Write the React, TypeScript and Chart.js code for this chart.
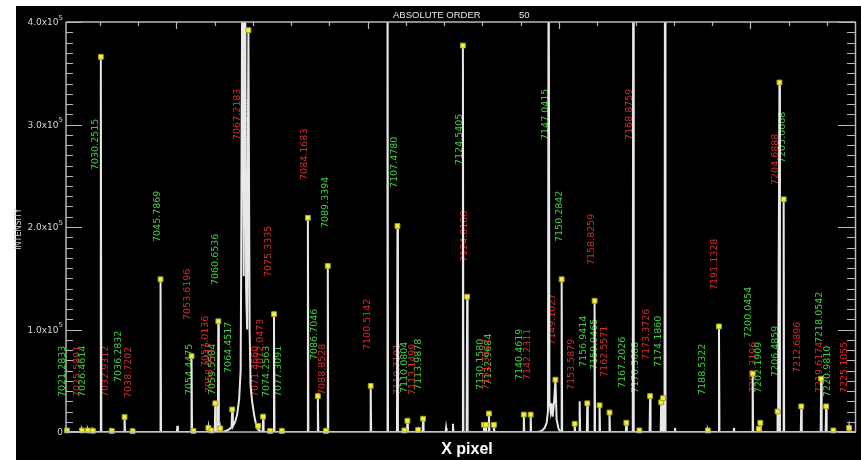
import React, { useEffect, useRef } from "react";
import { Chart, registerables } from "chart.js";

Chart.register(...registerables);

// ---- axis ranges (x in CCD pixels, y in counts) ----
const X_MIN = 12;
const X_MAX = 2076;
const Y_MAX = 400000;

// ---- narrow emission lines: centre pixel and peak counts ----
const linePixel = [14.6, 53.6, 69.2, 82.2, 103, 131.6, 165, 186, 259, 303, 340, 345, 384, 392, 402, 410, 415, 527, 545, 555.4, 576, 644, 670, 691, 696, 808, 852, 878, 896, 904, 932, 945, 1005, 1023, 1049, 1060, 1104, 1109, 1117, 1130, 1208, 1226, 1307, 1341, 1354, 1374, 1393, 1406, 1432, 1476, 1494, 1510, 1538, 1567, 1572, 1577, 1603, 1689, 1718, 1757, 1806, 1822, 1826, 1871, 1876, 1887, 1933, 1985, 1998, 2017, 2058];
const lineCounts = [1500, 1500, 1500, 1200, 366000, 1000, 14600, 800, 149000, 6000, 74000, 1000, 4000, 1500, 28000, 108000, 3500, 15000, 1000, 115000, 1000, 209000, 35000, 1000, 162000, 45000, 520000, 201000, 1500, 11000, 2000, 13000, 4000, 8000, 377000, 132000, 7000, 7000, 18000, 7000, 17000, 17000, 149000, 8000, 30000, 28000, 128000, 26000, 19000, 9000, 520000, 1500, 35000, 29000, 33000, 520000, 4000, 1500, 103000, 4000, 57000, 3000, 9000, 20000, 341000, 227000, 25000, 52000, 25000, 1500, 4000];

const blendAPixel = [422.8, 435.8, 444.5, 446.2, 448, 454, 459.2, 464.4, 468.3, 469.6, 473, 476.4, 479.5, 482.6, 485.2, 488.6, 491.7, 494.3, 498.2, 503.4, 508, 511.5, 513.8, 516, 522];
const blendACounts = [0, 2000, 4500, 22000, 5500, 10000, 17000, 32000, 60000, 152000, 520000, 152000, 520000, 140000, 100000, 392000, 100000, 45000, 30000, 17000, 8000, 4000, 6000, 2000, 0];
const blendBPixel = [1244.4, 1254.8, 1262.6, 1267.8, 1271.2, 1273, 1275.1, 1278.2, 1280.8, 1283.4, 1287.3, 1290.7, 1293.8, 1299, 1304.2];
const blendBCounts = [0, 1000, 4000, 9000, 20000, 520000, 30000, 20000, 28000, 15000, 30000, 51000, 12000, 3000, 0];

// ---- identified line markers (yellow squares) ----
const markerPixel = [14.6, 53.6, 69.2, 82.2, 103, 131.6, 165, 186, 259, 340, 345, 384, 392, 402, 410, 415, 446.2, 488.6, 513.8, 527, 545, 555.4, 576, 644, 670, 691, 696, 808, 878, 896, 904, 932, 945, 1049, 1060, 1104, 1109, 1117, 1130, 1208, 1226, 1290.7, 1307, 1341, 1374, 1393, 1406, 1432, 1476, 1510, 1538, 1567, 1572, 1689, 1718, 1806, 1822, 1826, 1871, 1876, 1887, 1933, 1985, 1998, 2017, 2058];
const markerCounts = [1500, 1500, 1500, 1200, 366000, 1000, 14600, 800, 149000, 74000, 1000, 4000, 1500, 28000, 108000, 3500, 22000, 392000, 6000, 15000, 1000, 115000, 1000, 209000, 35000, 1000, 162000, 45000, 201000, 1500, 11000, 2000, 13000, 377000, 132000, 7000, 7000, 18000, 7000, 17000, 17000, 51000, 149000, 8000, 28000, 128000, 26000, 19000, 9000, 1500, 35000, 29000, 33000, 1500, 103000, 57000, 3000, 9000, 20000, 341000, 227000, 25000, 52000, 25000, 1500, 4000];

// ---- wavelength labels (green = matched, red = other) ----
const greenText = ["7021.2833", "7026.4614", "7030.2515", "7036.2832", "7045.7869", "7054.4475", "7059.5584", "7060.6536", "7064.4517", "7068.4106", "7074.2563", "7077.3091", "7086.7046", "7089.3394", "7107.4780", "7110.0804", "7113.9878", "7124.5405", "7130.1580", "7132.9684", "7140.4619", "7147.0415", "7150.2842", "7156.9414", "7159.9465", "7167.2026", "7170.3688", "7174.1860", "7188.5322", "7200.0454", "7202.1909", "7206.4859", "7205.0668", "7218.0542", "7220.9810"];
const greenPixel = [4, 56, 90, 150, 251, 334, 394, 402, 436, 480, 535, 566, 662, 691, 870, 896, 932, 1039, 1096, 1117, 1198, 1265, 1302, 1364, 1393, 1465, 1499, 1559, 1676, 1796, 1822, 1866, 1884, 1980, 2001];
const greenBase = [34100, 34100, 255600, 48800, 185400, 36100, 36100, 143400, 57600, 275100, 34100, 34100, 70200, 199000, 238000, 38000, 41000, 260500, 41000, 45900, 50700, 284900, 185400, 63400, 60500, 42900, 38000, 63400, 36100, 91700, 38000, 53700, 262400, 86800, 34100];

const redText = ["7025.5891", "7032.9312", "7038.7202", "7053.6196", "7057.0136", "7058.4417", "7067.2183", "7071.4660", "7072.0473", "7075.3335", "7084.1683", "7088.8528", "7100.5142", "7110.7101", "7113.1499", "7124.8188", "7131.3822", "7142.2311", "7149.1027", "7153.5879", "7158.8259", "7162.5571", "7168.8759", "7173.3726", "7191.1328", "7202.3196", "7204.6888", "7212.6896", "7219.6174", "7225.1055"];
const redPixel = [41, 116, 176, 329, 376, 386, 459, 506, 519, 542, 636, 683, 800, 879, 917, 1052, 1112, 1218, 1283, 1333, 1385, 1419, 1484, 1528, 1707, 1809, 1866, 1923, 1980, 2045];
const redBase = [34100, 34100, 33200, 109300, 63400, 38000, 284900, 34100, 60500, 151200, 245900, 36100, 80000, 36100, 36100, 165900, 41000, 50700, 84900, 41000, 162900, 53700, 284900, 70200, 138500, 38000, 241000, 57600, 38000, 38000];

// ---- axis ticks and texts ----
const yTickValues = [0, 100000, 200000, 300000, 400000];
const yTickMantissa = ["0", "1.0x10", "2.0x10", "3.0x10", "4.0x10"];
const yTickExponent = ["", "5", "5", "5", "5"];
const yMinorStep = 10000;
const xMinorStep = 100;
const xMajorTicks = [300, 800, 1300, 1800];
const titleText = "ABSOLUTE ORDER";
const orderText = "50";
const xTitle = "X pixel";
const yTitle = "INTENSITY";

const LINE_HALF_WIDTH = 1.3;

function buildSpectrum() {
  const pts: { x: number; y: number }[] = [];
  linePixel.forEach((p, i) => {
    pts.push({ x: p - LINE_HALF_WIDTH, y: 0 }, { x: p, y: lineCounts[i] }, { x: p + LINE_HALF_WIDTH, y: 0 });
  });
  blendAPixel.forEach((p, i) => pts.push({ x: p, y: blendACounts[i] }));
  blendBPixel.forEach((p, i) => pts.push({ x: p, y: blendBCounts[i] }));
  pts.push({ x: X_MIN, y: 0 }, { x: X_MAX, y: 0 });
  pts.sort((a, b) => a.x - b.x);
  return pts;
}

const GREEN = "#3fcf3f";
const RED = "#d42a2a";
const AXIS = "#b9b9b9";

const decorPlugin = {
  id: "decor",
  beforeDraw(chart: any) {
    const { ctx, width, height } = chart;
    ctx.save();
    ctx.fillStyle = "#ffffff";
    ctx.fillRect(0, 0, width, height);
    ctx.fillStyle = "#000000";
    ctx.fillRect(16, 6, width - 16, height - 6);
    ctx.restore();
  },
  beforeDatasetsDraw(chart: any) {
    const { ctx } = chart;
    const xs = chart.scales.x;
    const ys = chart.scales.y;
    ctx.save();
    ctx.font = '9.5px "DejaVu Sans"';
    ctx.textAlign = "left";
    ctx.textBaseline = "middle";
    const drawSet = (texts: string[], pix: number[], base: number[], color: string) => {
      ctx.fillStyle = color;
      texts.forEach((t, i) => {
        const px = xs.getPixelForValue(pix[i]);
        const py = ys.getPixelForValue(base[i]);
        ctx.save();
        ctx.translate(px, py);
        ctx.rotate(-Math.PI / 2);
        ctx.fillText(t, 0, 0);
        ctx.restore();
      });
    };
    drawSet(greenText, greenPixel, greenBase, GREEN);
    drawSet(redText, redPixel, redBase, RED);
    ctx.restore();
  },
  afterDraw(chart: any) {
    const { ctx } = chart;
    const area = chart.chartArea;
    const xs = chart.scales.x;
    const ys = chart.scales.y;
    ctx.save();
    ctx.strokeStyle = AXIS;
    ctx.lineWidth = 1.5;
    ctx.beginPath();
    ctx.moveTo(area.left, area.top);
    ctx.lineTo(area.right, area.top);
    ctx.moveTo(area.left, area.top);
    ctx.lineTo(area.left, area.bottom);
    ctx.moveTo(area.right - 0.5, area.top);
    ctx.lineTo(area.right - 0.5, area.bottom);
    ctx.moveTo(area.left, area.bottom);
    ctx.lineTo(area.right, area.bottom);
    ctx.stroke();

    // y ticks (inward on both sides)
    ctx.lineWidth = 1.2;
    ctx.beginPath();
    for (let v = 0; v <= Y_MAX; v += yMinorStep) {
      const py = Math.round(ys.getPixelForValue(v)) + 0.5;
      const major = yTickValues.includes(v);
      ctx.moveTo(area.left, py);
      ctx.lineTo(area.left + (major ? 16 : 7), py);
      ctx.moveTo(area.right, py);
      ctx.lineTo(area.right - (major ? 18 : 9), py);
    }
    // x ticks on top axis
    const first = Math.ceil(X_MIN / xMinorStep) * xMinorStep;
    for (let v = first; v <= X_MAX; v += xMinorStep) {
      const px = Math.round(xs.getPixelForValue(v)) + 0.5;
      const major = xMajorTicks.includes(v);
      ctx.moveTo(px, area.top);
      ctx.lineTo(px, area.top + (major ? 7 : 4));
    }
    ctx.stroke();

    // y tick labels with superscript exponent
    ctx.fillStyle = "#d6d6d6";
    ctx.textBaseline = "middle";
    const rightEdge = area.left - 3;
    yTickValues.forEach((v, i) => {
      const py = ys.getPixelForValue(v);
      ctx.font = '7px "DejaVu Sans"';
      const expW = yTickExponent[i] ? ctx.measureText(yTickExponent[i]).width : 0;
      if (yTickExponent[i]) {
        ctx.textAlign = "left";
        ctx.fillText(yTickExponent[i], rightEdge - expW, py - 4);
      }
      ctx.font = '9px "DejaVu Sans"';
      ctx.textAlign = "right";
      ctx.fillText(yTickMantissa[i], rightEdge - expW, py + 1);
    });

    // title
    ctx.fillStyle = "#e6e6e6";
    ctx.font = '9.5px "Liberation Sans"';
    ctx.textAlign = "left";
    ctx.textBaseline = "middle";
    ctx.fillText(titleText, 393, 15);
    ctx.fillText(orderText, 519, 15);

    // x title
    ctx.fillStyle = "#ffffff";
    ctx.font = 'bold 16px "Liberation Sans", Arial, sans-serif';
    ctx.textAlign = "center";
    ctx.fillText(xTitle, 467, 450);

    // y title
    ctx.fillStyle = "#cfcfcf";
    ctx.font = '8px "DejaVu Sans"';
    ctx.save();
    ctx.translate(19, 229);
    ctx.rotate(-Math.PI / 2);
    ctx.fillText(yTitle, 0, 0);
    ctx.restore();
    ctx.restore();
  },
};

export default function App() {
  const ref = useRef<HTMLCanvasElement>(null);
  useEffect(() => {
    if (!ref.current) return;
    const spectrum = buildSpectrum();
    const markers = markerPixel.map((p, i) => ({ x: p, y: markerCounts[i] }));
    const chart = new Chart(ref.current, {
      type: "scatter",
      data: {
        datasets: [
          {
            data: markers,
            pointStyle: "rect",
            pointRadius: 3.4,
            backgroundColor: "#f2f23a",
            borderColor: "#a8a820",
            borderWidth: 1,
            clip: false as any,
            order: 0,
          },
          {
            data: spectrum,
            showLine: true,
            borderColor: "#e8e8e8",
            borderWidth: 2,
            pointRadius: 0,
            tension: 0,
            fill: false,
            order: 1,
          } as any,
        ],
      },
      options: {
        animation: false,
        responsive: false,
        devicePixelRatio: 1,
        events: [],
        layout: { padding: { left: 66, top: 22, right: 1, bottom: 28 } },
        scales: {
          x: { type: "linear", min: X_MIN, max: X_MAX, display: false },
          y: { type: "linear", min: 0, max: Y_MAX, display: false },
        },
        plugins: {
          legend: { display: false },
          tooltip: { enabled: false },
          title: { display: false },
        },
      },
      plugins: [decorPlugin],
    });
    return () => chart.destroy();
  }, []);
  return (
    <div style={{ position: "fixed", left: 0, top: 0, width: 861, height: 460 }}>
      <canvas ref={ref} width={861} height={460} style={{ display: "block" }} />
    </div>
  );
}
